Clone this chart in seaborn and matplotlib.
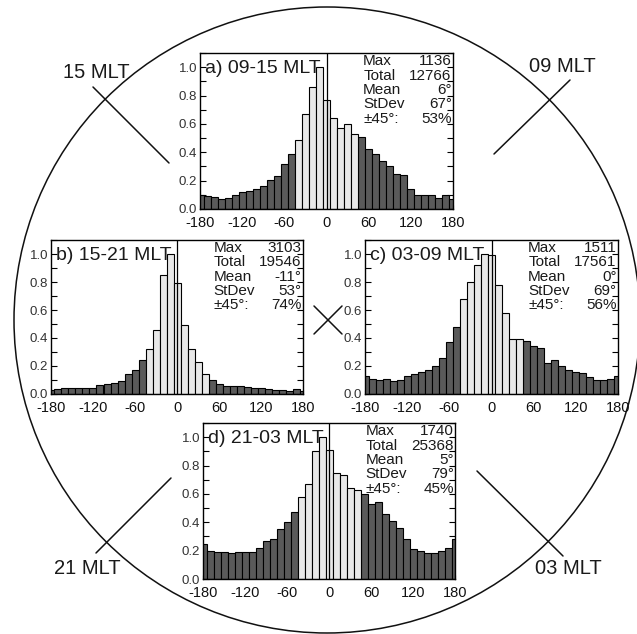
import numpy as np
import pandas as pd
import matplotlib
matplotlib.use("Agg")
import matplotlib.pyplot as plt
import seaborn as sns
from matplotlib.patches import Circle
from matplotlib.ticker import MultipleLocator, FormatStrFormatter

# ---------------- data ----------------
angles = list(range(-180, 181, 10))  # bin centres (deg)

vals_a = [0.10, 0.095, 0.085, 0.07, 0.075, 0.10, 0.12, 0.125, 0.14, 0.165, 0.205, 0.23, 0.32, 0.385,
          0.49, 0.67, 0.86, 1.00, 0.77, 0.64, 0.57, 0.60, 0.53,
          0.51, 0.42, 0.39, 0.34, 0.30, 0.25, 0.24, 0.14, 0.10, 0.10, 0.10, 0.08, 0.10, 0.07]
vals_b = [0.03, 0.035, 0.04, 0.045, 0.045, 0.045, 0.04, 0.065, 0.07, 0.08, 0.09, 0.145, 0.17, 0.245,
          0.32, 0.46, 0.85, 1.00, 0.79, 0.49, 0.32, 0.23, 0.14,
          0.10, 0.07, 0.06, 0.055, 0.055, 0.05, 0.045, 0.04, 0.035, 0.03, 0.03, 0.025, 0.035, 0.025]
vals_c = [0.13, 0.11, 0.10, 0.11, 0.09, 0.10, 0.13, 0.145, 0.16, 0.17, 0.20, 0.26, 0.37, 0.48,
          0.68, 0.80, 0.92, 1.00, 0.995, 0.78, 0.58, 0.39, 0.39,
          0.38, 0.34, 0.33, 0.22, 0.24, 0.20, 0.17, 0.155, 0.15, 0.12, 0.10, 0.10, 0.11, 0.13]
vals_d = [0.25, 0.20, 0.19, 0.19, 0.18, 0.19, 0.19, 0.19, 0.22, 0.27, 0.28, 0.35, 0.40, 0.47,
          0.58, 0.67, 0.90, 1.00, 0.91, 0.75, 0.73, 0.64, 0.63,
          0.60, 0.53, 0.54, 0.46, 0.41, 0.36, 0.28, 0.21, 0.20, 0.18, 0.18, 0.20, 0.22, 0.28]

panel_labels = ["a) 09-15 MLT", "b) 15-21 MLT", "c) 03-09 MLT", "d) 21-03 MLT"]
stat_names = ["Max", "Total", "Mean", "StDev", "\u00b145\u00b0:"]
stats_a = ["1136", "12766", "6\u00b0", "67\u00b0", "53%"]
stats_b = ["3103", "19546", "-11\u00b0", "53\u00b0", "74%"]
stats_c = ["1511", "17561", "0\u00b0", "69\u00b0", "56%"]
stats_d = ["1740", "25368", "5\u00b0", "79\u00b0", "45%"]

mlt_labels = ["15 MLT", "09 MLT", "21 MLT", "03 MLT"]
xtick_vals = [-180, -120, -60, 0, 60, 120, 180]
ytick_vals = [0.0, 0.2, 0.4, 0.6, 0.8, 1.0]

# ---------------- style ----------------
sns.set_theme(style="white")
plt.rcParams["font.family"] = ["Liberation Sans", "DejaVu Sans"]
plt.rcParams["axes.unicode_minus"] = False

W, H = 637, 634
fig = plt.figure(figsize=(W / 100, H / 100), dpi=100)
fig.patch.set_facecolor("white")

# background decorations (pixel coordinates)
bg = fig.add_axes([0, 0, 1, 1], zorder=0)
bg.set_xlim(0, W)
bg.set_ylim(H, 0)
bg.axis("off")
bg.add_patch(Circle((327, 320), 313, fill=False, color="#111111", lw=1.1))
deco_lines = [((93, 87), (169, 163)), ((494, 154), (570, 80)),
              ((96, 553), (171, 478)), ((477, 471), (563, 556)),
              ((314, 306), (342, 334)), ((314, 334), (342, 306))]
for (x0, y0), (x1, y1) in deco_lines:
    bg.plot([x0, x1], [y0, y1], color="#111111", lw=1.1)
mlt_pos = [(96, 72), (562, 66), (87, 569), (568, 569)]
for lab, (x, y) in zip(mlt_labels, mlt_pos):
    bg.text(x, y, lab, ha="center", va="center", fontsize=14.5, color="#1a1a1a")

def px_rect(x0, x1, y0, y1):
    return [x0 / W, (H - y1) / H, (x1 - x0) / W, (y1 - y0) / H]

rects = [px_rect(200, 453, 53, 209), px_rect(51, 303, 240, 394),
         px_rect(365, 618, 240, 394), px_rect(203, 455, 423, 579)]
all_vals = [vals_a, vals_b, vals_c, vals_d]
all_stats = [stats_a, stats_b, stats_c, stats_d]

for rect, vals, plab, stats in zip(rects, all_vals, panel_labels, all_stats):
    ax = fig.add_axes(rect, zorder=2)
    df = pd.DataFrame({"angle": angles, "frac": vals})
    df["zone"] = np.where(df["angle"].abs() <= 40, "in", "out")
    sns.histplot(data=df, x="angle", weights="frac", hue="zone",
                 binwidth=10, binrange=(-185, 185),
                 palette={"in": "#e8e8e8", "out": "#5a5a5a"}, alpha=1,
                 edgecolor="black", linewidth=0.8, legend=False, ax=ax,
                 multiple="layer", hue_order=["in", "out"])
    ax.set_xlim(-180, 180)
    ax.set_ylim(0, 1.1)
    ax.set_xlabel("")
    ax.set_ylabel("")
    ax.set_xticks(xtick_vals)
    ax.set_yticks(ytick_vals)
    ax.yaxis.set_major_formatter(FormatStrFormatter("%.1f"))
    ax.yaxis.set_minor_locator(MultipleLocator(0.1))
    ax.tick_params(axis="y", which="both", direction="in", left=True, right=True,
                   length=4, width=0.8, color="black", labelsize=9.5, pad=2,
                   labelcolor="#333333")
    ax.tick_params(axis="x", which="major", direction="in", bottom=True,
                   length=3, width=0.8, color="black", labelsize=10.5, pad=5,
                   labelcolor="#111111")
    for s in ax.spines.values():
        s.set_color("black")
        s.set_linewidth(1.0)
    ax.axvline(0, color="black", lw=0.9, zorder=5)
    ax.text(0.02, 0.90, plab, transform=ax.transAxes, ha="left", va="center",
            fontsize=14, color="#1a1a1a", zorder=6)
    ys = [0.947, 0.854, 0.762, 0.670, 0.578]
    for name, val, y in zip(stat_names, stats, ys):
        ax.text(0.645, y, name, transform=ax.transAxes, ha="left", va="center",
                fontsize=11, color="#1a1a1a", zorder=6)
        ax.text(0.995, y, val, transform=ax.transAxes, ha="right", va="center",
                fontsize=11, color="#1a1a1a", zorder=6)

fig.savefig("out.png", dpi=100, facecolor="white")
